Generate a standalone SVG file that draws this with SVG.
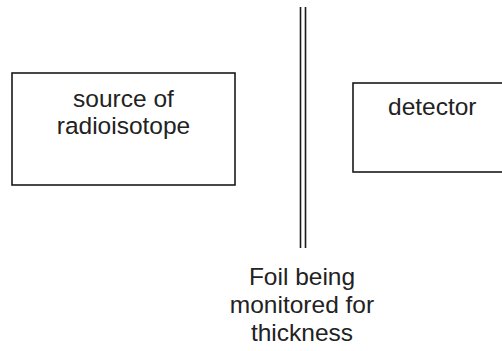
<svg xmlns="http://www.w3.org/2000/svg" width="502" height="351" viewBox="0 0 502 351">
<style>
.box{fill:none;stroke:#1a1a1a;stroke-width:1.6}
.foil{stroke:#1a1a1a;stroke-width:1.6}
text{font-family:"Liberation Sans",Arial,sans-serif;font-size:24.5px;fill:#222}
</style>
<rect width="502" height="351" fill="#fff"/>
<g id="source">
<rect class="box" x="12" y="73" width="223" height="112"/>
<text x="123.5" y="107" text-anchor="middle">source of</text>
<text x="123.5" y="134" text-anchor="middle">radioisotope</text>
</g>
<g id="foil">
<line class="foil" x1="300.5" y1="7" x2="300.5" y2="248"/>
<line class="foil" x1="305.5" y1="7" x2="305.5" y2="248"/>
<text x="302" y="285" text-anchor="middle">Foil being</text>
<text x="302" y="313" text-anchor="middle">monitored for</text>
<text x="302" y="341" text-anchor="middle">thickness</text>
</g>
<g id="detector">
<rect class="box" x="353" y="83" width="160" height="89"/>
<text x="388" y="115">detector</text>
</g>
<g id="connectors"></g>
</svg>
